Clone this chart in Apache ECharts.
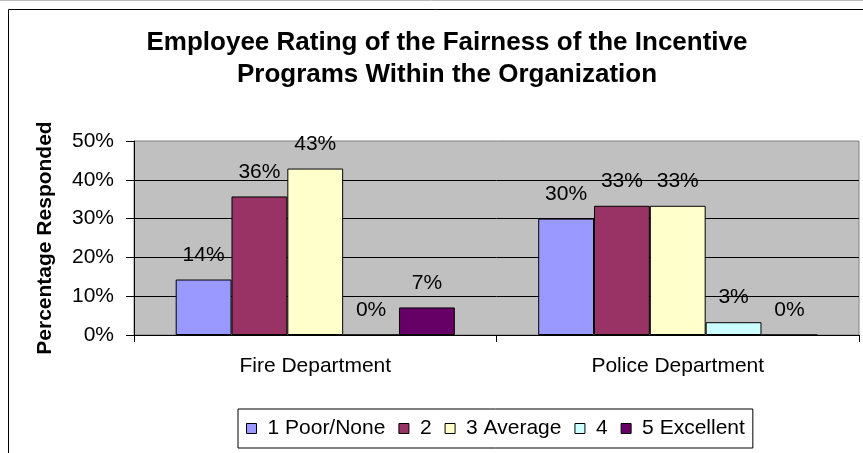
<!DOCTYPE html>
<html><head><meta charset="utf-8">
<script src="https://cdn.jsdelivr.net/npm/echarts@6/dist/echarts.min.js"></script>
<style>html,body{margin:0;padding:0;background:#fff;}#c{width:863px;height:453px;}</style>
</head><body><div id="c"></div>
<script>
const categories = ['Fire Department', 'Police Department'];
const seriesNames = ['1 Poor/None', '2', '3 Average', '4', '5 Excellent'];
const poorNone = [14.3, 30.0];
const two = [35.7, 33.3];
const average = [42.9, 33.3];
const four = [0, 3.3];
const excellent = [7.1, 0];
const yTicks = [0, 10, 20, 30, 40, 50];
const colors = ['#9999FF', '#993366', '#FFFFCC', '#CCFFFF', '#660066'];
const values = [poorNone, two, average, four, excellent];
const FONT = 'Liberation Sans, Arial, sans-serif';
const FS = 21;
const chart = echarts.init(document.getElementById('c'));
chart.setOption({
  animation: false,
  textStyle: {fontFamily: FONT},
  title: {
    text: 'Employee Rating of the Fairness of the Incentive\nPrograms Within the Organization',
    left: 442, top: 22, textAlign: 'center',
    textStyle: {fontFamily: FONT, fontSize: 26, fontWeight: 'bold', color: '#000', lineHeight: 32}
  },
  graphic: [
    {type: 'line', shape: {x1: 0, y1: 0.5, x2: 863, y2: 0.5}, style: {stroke: '#bbbbbb', lineWidth: 1}, z: 100},
    {type: 'rect', shape: {x: 8.5, y: 9.5, width: 900, height: 500}, style: {fill: 'none', stroke: '#000', lineWidth: 1}, z: 100}
  ],
  legend: {
    data: seriesNames, left: 238, top: 409, orient: 'horizontal',
    padding: [9, 8], itemGap: 13, itemWidth: 10, itemHeight: 10,
    borderColor: '#000', borderWidth: 1, backgroundColor: '#fff',
    icon: 'rect',
    itemStyle: {borderColor: '#000', borderWidth: 1},
    textStyle: {fontFamily: FONT, fontSize: FS, color: '#000', padding: [0, 0, 0, 6]}
  },
  grid: {left: 134, top: 141, width: 725, height: 194, show: true, backgroundColor: '#C0C0C0', borderColor: '#808080', borderWidth: 1},
  xAxis: {
    type: 'category', data: categories,
    axisLine: {lineStyle: {color: '#000', width: 1}},
    axisTick: {show: true, length: 7, lineStyle: {color: '#000'}},
    axisLabel: {color: '#000', fontSize: FS, margin: 21, fontFamily: FONT}
  },
  yAxis: {
    type: 'value', min: yTicks[0], max: yTicks[yTicks.length - 1], interval: 10,
    name: 'Percentage Responded', nameLocation: 'middle', nameGap: 78,
    nameTextStyle: {fontFamily: FONT, fontSize: FS, fontWeight: 'bold', color: '#000'},
    axisLine: {show: true, lineStyle: {color: '#000', width: 1}},
    axisTick: {show: true, length: 8, lineStyle: {color: '#000'}},
    axisLabel: {color: '#000', fontSize: FS, margin: 20, formatter: '{value}%', fontFamily: FONT},
    splitLine: {show: true, showMaxLine: false, lineStyle: {color: '#000', width: 1}}
  },
  series: seriesNames.map((n, i) => ({
    name: n, type: 'bar', data: values[i],
    barGap: '0%', barCategoryGap: '23%',
    itemStyle: {color: colors[i], borderColor: '#000', borderWidth: 1},
    label: {show: true, position: 'top', distance: 14, color: '#000', fontSize: FS, fontFamily: FONT,
      formatter: p => Math.round(p.value) + '%'}
  }))
});
</script></body></html>
